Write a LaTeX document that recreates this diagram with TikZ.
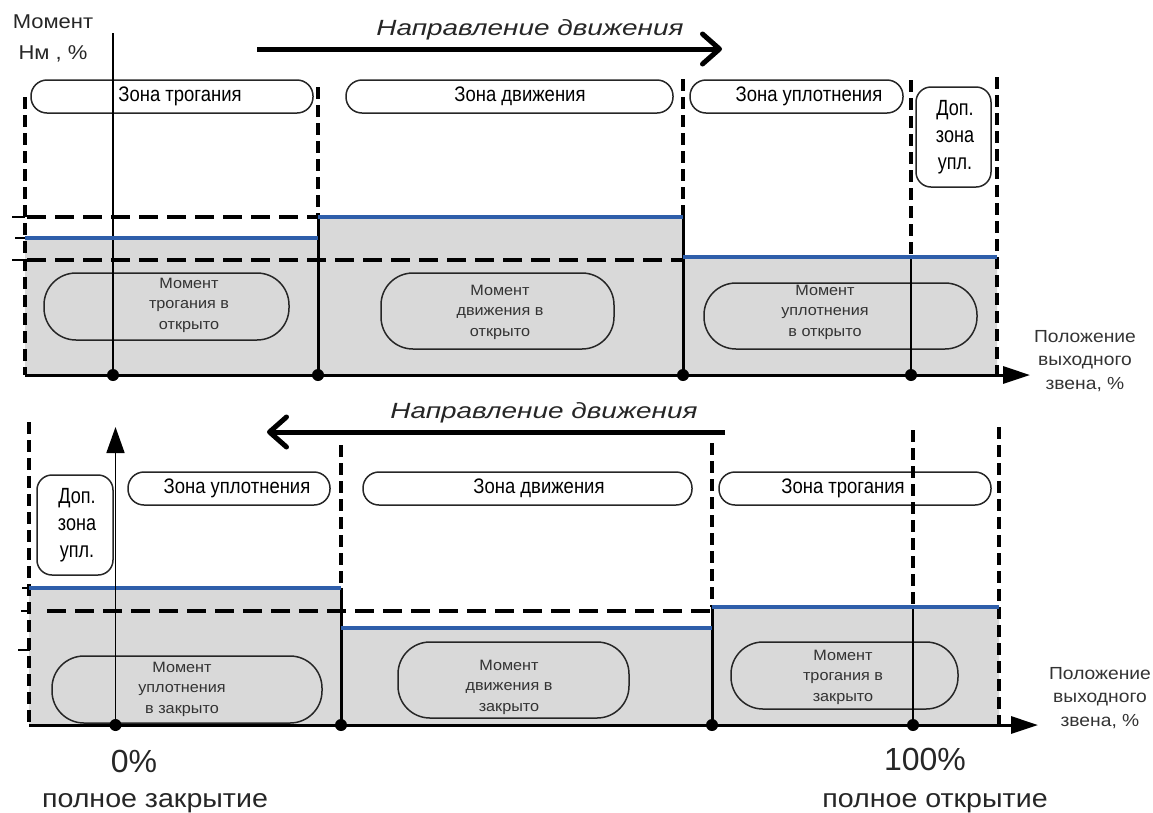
\documentclass[tikz,border=0pt]{standalone}
\usepackage{fontspec}
\setmainfont{Liberation Sans}
\newfontfamily\fzone[FakeStretch=0.88]{Liberation Sans}
\newfontfamily\fdop[FakeStretch=0.82]{Liberation Sans}
\newfontfamily\fmom[FakeStretch=1.08]{Liberation Sans}
\newfontfamily\ftitle[FakeStretch=1.27]{Liberation Sans}
\newfontfamily\fwide[FakeStretch=1.1]{Liberation Sans}
\usetikzlibrary{arrows.meta}
\definecolor{bl}{RGB}{46,94,170}
\definecolor{gr}{RGB}{217,217,217}
\begin{document}
\begin{tikzpicture}[x=1pt,y=-1pt,
  zpill/.style={draw=black!85, line width=1.5pt, rounded corners=16pt},
  mpill/.style={draw=black!85, line width=1.5pt, rounded corners=32pt},
  dpill/.style={draw=black!85, line width=1.5pt, rounded corners=15pt},
  vdash/.style={line width=3.5pt, dash pattern=on 12pt off 6pt},
  hdash/.style={line width=3.5pt, dash pattern=on 19pt off 9pt},
  vsolid/.style={line width=3pt},
  vthin/.style={line width=1.8pt},
  bline/.style={draw=bl, line width=4.5pt},
  tickm/.style={line width=1.8pt},
  baseln/.style={line width=3pt, -{Triangle[length=27pt,width=17pt]}},
  dirarrow/.style={line width=5pt, -{Straight Barb[length=17pt,width=30pt,round]}},
  dotm/.style={fill=black},
  zlab/.style={inner sep=0pt, font=\fzone\fontsize{21}{25}\selectfont},
  mlab/.style={inner sep=0pt, align=center, text=black!80, font=\fmom\fontsize{15}{20.5}\selectfont},
  dlab/.style={inner sep=0pt, align=center, font=\fdop\fontsize{22}{27}\selectfont},
  plab/.style={inner sep=0pt, align=center, text=black!80, font=\fwide\fontsize{17.5}{23.5}\selectfont},
  tlab/.style={inner sep=0pt, anchor=base, text=black!85, font=\ftitle\itshape\fontsize{22}{26}\selectfont},
  biglab/.style={inner sep=0pt, anchor=base, text=black!85}
]
\useasboundingbox (0,0) rectangle (1153,812);

% ================= TOP CHART =================
\fill[gr] (25,375) -- (25,238) -- (318,238) -- (318,217) -- (683,217) -- (683,257) -- (997,257) -- (997,375) -- cycle;

% pills
\draw[zpill] (31,80) rectangle (313,113);
\draw[zpill] (346,80) rectangle (673,113);
\draw[zpill] (690,80) rectangle (903,113);
\draw[dpill] (916,87) rectangle (991,187);
\draw[mpill] (44,273) rectangle (289,340);
\draw[mpill] (381,273) rectangle (614,349);
\draw[mpill] (704,283) rectangle (977,349);

% horizontal dashed levels and ticks
\draw[hdash] (27,217) -- (318,217);
\draw[hdash] (27,260) -- (683,260);
\draw[tickm] (12,217) -- (25,217);
\draw[tickm] (15,238) -- (25,238);
\draw[tickm] (12,260) -- (25,260);

% verticals
\draw[vdash] (25,97) -- (25,375);
\draw[vdash] (318,87) -- (318,217);
\draw[vsolid] (318,217) -- (318,375);
\draw[vdash] (683,79) -- (683,217);
\draw[vsolid] (683,217) -- (683,375);
\draw[vdash] (911,80) -- (911,257);
\draw[vthin] (911,257) -- (911,375);
\draw[vdash] (997,77) -- (997,375);
\draw[vthin] (113,33) -- (113,375);

% blue levels
\draw[bline] (25,238) -- (318,238);
\draw[bline] (318,217) -- (683,217);
\draw[bline] (683,257) -- (997,257);

% axis
\coordinate (xa0) at (25,375);
\coordinate (xa1) at (1030,375);
\draw[baseln] (xa0) -- (xa1);
\fill[dotm] (113,375) circle (6pt);
\fill[dotm] (318,375) circle (6pt);
\fill[dotm] (683,375) circle (6pt);
\fill[dotm] (911,375) circle (6pt);

% direction arrow
\coordinate (d1s) at (257,49);
\coordinate (d1e) at (722,49);
\draw[dirarrow] (d1s) -- (d1e);
\node[tlab] (t1) at (530,35) {Направление движения};

% labels
\node[inner sep=0pt, text=black!85, font=\fwide\fontsize{20}{24}\selectfont] (mom) at (53,22) {Момент};
\node[inner sep=0pt, text=black!85, font=\fwide\fontsize{20}{24}\selectfont] (nm) at (53,54) {Нм , \%};
\node[zlab] (z1) at (180,96.5) {Зона трогания};
\node[zlab] (z2) at (520,96.5) {Зона движения};
\node[zlab] (z3) at (809,96.5) {Зона уплотнения};
\node[dlab] (dz1) at (955,137) {Доп.\\зона\\упл.};
\node[mlab] (m1) at (189,305) {Момент\\трогания в\\открыто};
\node[mlab] (m2) at (500,312) {Момент\\движения в\\открыто};
\node[mlab] (m3) at (825,312) {Момент\\уплотнения\\в открыто};
\node[plab] (p1) at (1085,361) {Положение\\выходного\\звена, \%};

% ================= BOTTOM CHART =================
\fill[gr] (29,725) -- (29,588) -- (341,588) -- (341,628) -- (712,628) -- (712,607) -- (999,607) -- (999,725) -- cycle;

\draw[dpill] (37,475) rectangle (113,575);
\draw[zpill] (128,472) rectangle (330,505);
\draw[zpill] (363,472) rectangle (692,505);
\draw[zpill] (719,472) rectangle (991,505);
\draw[mpill] (52,656) rectangle (322,723);
\draw[mpill] (398,642) rectangle (629,718);
\draw[mpill] (731,642) rectangle (958,709);

\draw[hdash] (47,611) -- (712,611);
\draw[tickm] (22,588) -- (30,588);
\draw[tickm] (21,611) -- (30,611);
\draw[tickm] (18,650) -- (30,650);

\draw[vdash] (29,422) -- (29,725);
\draw[vdash] (341,445) -- (341,588);
\draw[vsolid] (341,588) -- (341,725);
\draw[vdash] (712,443) -- (712,607);
\draw[vsolid] (712,607) -- (712,725);
\draw[vdash] (913,430) -- (913,607);
\draw[vthin] (913,607) -- (913,725);
\draw[vdash] (999,427) -- (999,725);

\draw[bline] (29,588) -- (341,588);
\draw[bline] (341,628) -- (712,628);
\draw[bline] (712,607) -- (999,607);

\coordinate (ya0) at (115.5,725);
\coordinate (ya1) at (115.5,427);
\draw[line width=1.8pt, -{Triangle[length=26pt,width=18pt]}] (ya0) -- (ya1);
\coordinate (xb0) at (29,725);
\coordinate (xb1) at (1038,725);
\draw[baseln] (xb0) -- (xb1);
\fill[dotm] (115.5,725) circle (6pt);
\fill[dotm] (341,725) circle (6pt);
\fill[dotm] (712,725) circle (6pt);
\fill[dotm] (913,725) circle (6pt);

\coordinate (d2s) at (725,432);
\coordinate (d2e) at (267,432);
\draw[dirarrow] (d2s) -- (d2e);
\node[tlab] (t2) at (544,418) {Направление движения};

\node[dlab] (dz2) at (77,525) {Доп.\\зона\\упл.};
\node[zlab] (z4) at (237,488.5) {Зона уплотнения};
\node[zlab] (z5) at (539,488.5) {Зона движения};
\node[zlab] (z6) at (843,488.5) {Зона трогания};
\node[mlab] (m4) at (182,689) {Момент\\уплотнения\\в закрыто};
\node[mlab] (m5) at (509,687) {Момент\\движения в\\закрыто};
\node[mlab] (m6) at (843,677) {Момент\\трогания в\\закрыто};
\node[plab] (p2) at (1100,698) {Положение\\выходного\\звена, \%};

\node[biglab, font=\fontsize{32}{36}\selectfont] (zero) at (134,772) {0\%};
\node[biglab, font=\fontsize{32}{36}\selectfont] (hund) at (925,770) {100\%};
\node[biglab, font=\fwide\fontsize{26}{30}\selectfont] (clo) at (155,807) {полное закрытие};
\node[biglab, font=\fwide\fontsize{26}{30}\selectfont] (opn) at (935,807) {полное открытие};
\end{tikzpicture}
\end{document}
